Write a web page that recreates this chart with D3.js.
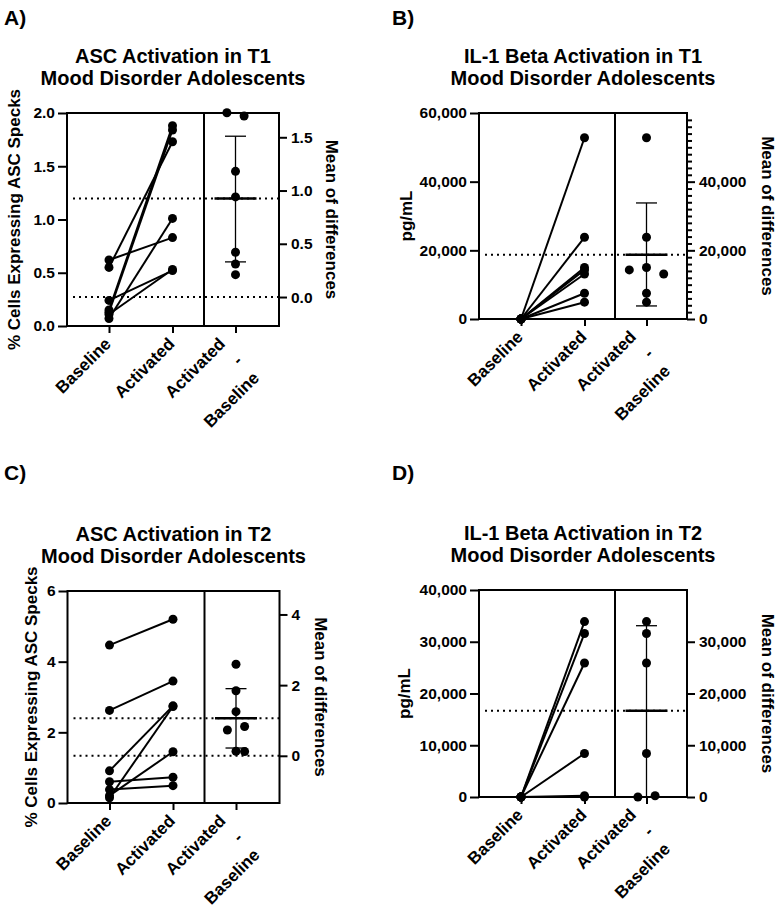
<!DOCTYPE html>
<html>
<head>
<meta charset="utf-8">
<script src="https://d3js.org/d3.v7.min.js"></script>
<style>
  body { margin: 0; background: #fff; }
  svg text { font-family: "Liberation Sans", Arial, sans-serif; font-weight: bold; fill: #000; }
</style>
</head>
<body>
<div id="chart"></div>
<script>
// categories on the x axis
var groups = ["Baseline", "Activated", "Activated - Baseline"];

// A) ASC activation, T1  (% cells)
var baseA = [0.62, 0.55, 0.15, 0.13, 0.07, 0.11, 0.24];
var actA  = [0.83, 1.73, 1.88, 1.84, 1.01, 0.53, 0.52];
var diffA = [0.21, 1.18, 1.73, 1.70, 0.94, 0.42, 0.31];
var slotA = [0, 0, -1, 1, 0, 0, 0];
var statsA = [0.272, 0.925, 0.33, 1.51];   // baseline mean, mean diff, bar low, bar high
var leftTicksA = [0, 0.5, 1, 1.5, 2];
var rightTicksA = [0, 0.5, 1, 1.5];

// B) IL-1 beta, T1  (pg/mL)
var baseB = [0, 0, 0, 0, 0, 0, 0];
var actB  = [52800, 23800, 15000, 14300, 13100, 7500, 4900];
var diffB = [52800, 23800, 15000, 14300, 13100, 7500, 4900];
var slotB = [0, 0, 0, -2, 2, 0, 0];
var statsB = [0, 18750, 3800, 33800];
var leftTicksB = [0, 20000, 40000, 60000];
var rightTicksB = [0, 20000, 40000];
var minorTicksB = d3.range(2000, 58001, 2000).filter(function(v) { return v % 20000 != 0; });

// C) ASC activation, T2
var baseC = [4.47, 2.62, 0.91, 0.15, 0.21, 0.60, 0.38];
var actC  = [5.20, 3.45, 2.75, 2.73, 1.45, 0.73, 0.49];
var diffC = [0.73, 0.83, 1.84, 2.59, 1.25, 0.13, 0.12];
var slotC = [-1, 1, 0, 0, 0, 0, 1];
var statsC = [1.336, 1.065, 0.22, 1.90];
var leftTicksC = [0, 2, 4, 6];
var rightTicksC = [0, 2, 4];

// D) IL-1 beta, T2
var baseD = [0, 0, 0, 0, 0, 0];
var actD  = [33900, 31600, 25900, 8400, 250, 0];
var diffD = [33900, 31600, 25900, 8400, 250, 0];
var slotD = [0, 0, 0, 0, 1, -1];
var statsD = [0, 16675, 0, 33100];
var leftTicksD = [0, 10000, 20000, 30000, 40000];
var rightTicksD = [0, 10000, 20000, 30000];

var W = 782, H = 909;
var svg = d3.select("#chart").append("svg")
  .attr("width", W).attr("height", H)
  .style("background", "#fff");

function styleAxis(g, size) {
  g.select(".domain").remove();
  g.selectAll(".tick line").attr("stroke", "#000").attr("stroke-width", 2);
  g.selectAll(".tick text")
    .attr("font-family", "'Liberation Sans', Arial, sans-serif")
    .attr("font-size", size).attr("font-weight", "bold").attr("fill", "#000");
}

function drawPanel(p) {
  var g = svg.append("g");
  var x = d3.scaleOrdinal().domain(groups)
    .range([p.x0 + 42, p.x0 + 105.5, p.xd + 31.5]);
  var yL = d3.scaleLinear().domain(p.leftDomain).range([p.y1, p.y0]);
  var yR = d3.scaleLinear()
    .domain([p.leftDomain[0] - p.stats[0], p.leftDomain[1] - p.stats[0]])
    .range([p.y1, p.y0]);

  // letter + title
  g.append("text").attr("x", p.letterX).attr("y", p.letterY)
    .attr("font-size", 21).text(p.letter);
  var cx = (p.x0 + p.x1) / 2;
  p.title.forEach(function(t, i) {
    g.append("text").attr("x", cx).attr("y", p.y0 - 50 + i * 22)
      .attr("text-anchor", "middle").attr("font-size", 20).text(t);
  });

  // frame
  g.append("rect").attr("x", p.x0).attr("y", p.y0)
    .attr("width", p.x1 - p.x0).attr("height", p.y1 - p.y0)
    .attr("fill", "none").attr("stroke", "#000").attr("stroke-width", 2);
  g.append("line").attr("x1", p.xd).attr("x2", p.xd).attr("y1", p.y0).attr("y2", p.y1)
    .attr("stroke", "#000").attr("stroke-width", 2);

  // dotted reference lines (baseline mean, activated mean)
  [yL(p.stats[0]), yR(p.stats[1])].forEach(function(yy) {
    g.append("line").attr("x1", p.x0 + 6).attr("x2", p.x1)
      .attr("y1", yy).attr("y2", yy)
      .attr("stroke", "#000").attr("stroke-width", 2)
      .attr("stroke-dasharray", "2,4");
  });

  // axes
  var ax = g.append("g").attr("transform", "translate(" + p.x0 + ",0)")
    .call(d3.axisLeft(yL).tickValues(p.leftTicks).tickSize(9).tickPadding(3).tickFormat(p.fmt));
  styleAxis(ax, 15.5);
  var ar = g.append("g").attr("transform", "translate(" + p.x1 + ",0)")
    .call(d3.axisRight(yR).tickValues(p.rightTicks).tickSize(8).tickPadding(4).tickFormat(p.fmt));
  styleAxis(ar, 15.5);
  if (p.minor) {
    var am = g.append("g").attr("transform", "translate(" + p.x1 + ",0)")
      .call(d3.axisRight(yR).tickValues(p.minor).tickSize(5).tickFormat(""));
    styleAxis(am, 10);
  }
  var ab = g.append("g").attr("transform", "translate(0," + p.y1 + ")")
    .call(d3.axisBottom(x).tickSize(7).tickFormat(""));
  styleAxis(ab, 10);

  // x labels, rotated
  groups.forEach(function(name, i) {
    var lines = i == 2 ? ["Activated", "-", "Baseline"] : [name];
    var tx = x(name) + (i == 2 ? -9.3 : 3);
    var t = g.append("text")
      .attr("transform", "translate(" + tx + "," + (p.y1 + 19) + ") rotate(-45)")
      .attr("text-anchor", "end").attr("font-size", 17);
    lines.forEach(function(l, j) {
      t.append("tspan").attr("x", 0).attr("dy", j == 0 ? 0 : 24).text(l);
    });
  });

  // axis titles
  var my = (p.y0 + p.y1) / 2;
  g.append("text").attr("transform", "translate(" + p.ltx + "," + my + ") rotate(-90)")
    .attr("text-anchor", "middle").attr("font-size", 17).text(p.yTitle);
  g.append("text").attr("transform", "translate(" + p.rtx + "," + my + ") rotate(90)")
    .attr("text-anchor", "middle").attr("font-size", 17).text("Mean of differences");

  // paired lines
  g.selectAll(".pair").data(p.base).enter().append("line")
    .attr("x1", x(groups[0])).attr("y1", function(d) { return yL(d); })
    .attr("x2", x(groups[1])).attr("y2", function(d, i) { return yL(p.act[i]); })
    .attr("stroke", "#000").attr("stroke-width", 2);

  // error bar and mean of differences
  var dx = x(groups[2]);
  g.append("line").attr("x1", dx).attr("x2", dx)
    .attr("y1", yR(p.stats[2])).attr("y2", yR(p.stats[3]))
    .attr("stroke", "#000").attr("stroke-width", 1.3);
  [p.stats[2], p.stats[3]].forEach(function(v) {
    g.append("line").attr("x1", dx - 10.5).attr("x2", dx + 10.5)
      .attr("y1", yR(v)).attr("y2", yR(v))
      .attr("stroke", "#000").attr("stroke-width", 1.3);
  });
  g.append("line").attr("x1", dx - 21).attr("x2", dx + 21)
    .attr("y1", yR(p.stats[1])).attr("y2", yR(p.stats[1]))
    .attr("stroke", "#000").attr("stroke-width", 2.5);

  // dots
  var r = 4.5;
  g.selectAll(".b").data(p.base).enter().append("circle")
    .attr("cx", x(groups[0])).attr("cy", function(d) { return yL(d); }).attr("r", r);
  g.selectAll(".a").data(p.act).enter().append("circle")
    .attr("cx", x(groups[1])).attr("cy", function(d) { return yL(d); }).attr("r", r);
  g.selectAll(".d").data(p.diff).enter().append("circle")
    .attr("cx", function(d, i) { return dx + p.slot[i] * 8.6; })
    .attr("cy", function(d) { return yR(d); }).attr("r", r);
}

var fmt1 = d3.format(".1f"), fmtC = d3.format(","), fmtI = d3.format("d");

drawPanel({letter: "A)", letterX: 4, letterY: 25,
  title: ["ASC Activation in T1", "Mood Disorder Adolescents"],
  x0: 67, xd: 204, x1: 279, y0: 113, y1: 326,
  leftDomain: [0, 2], leftTicks: leftTicksA, rightTicks: rightTicksA, fmt: fmt1,
  base: baseA, act: actA, diff: diffA, slot: slotA, stats: statsA,
  yTitle: "% Cells Expressing ASC Specks", ltx: 20, rtx: 325.5});

drawPanel({letter: "B)", letterX: 392, letterY: 25,
  title: ["IL-1 Beta Activation in T1", "Mood Disorder Adolescents"],
  x0: 479, xd: 615, x1: 687, y0: 113, y1: 319,
  leftDomain: [0, 60000], leftTicks: leftTicksB, rightTicks: rightTicksB, fmt: fmtC,
  minor: minorTicksB,
  base: baseB, act: actB, diff: diffB, slot: slotB, stats: statsB,
  yTitle: "pg/mL", ltx: 411.5, rtx: 762});

drawPanel({letter: "C)", letterX: 4, letterY: 480,
  title: ["ASC Activation in T2", "Mood Disorder Adolescents"],
  x0: 67.5, xd: 204.5, x1: 279.5, y0: 591, y1: 803,
  leftDomain: [0, 6], leftTicks: leftTicksC, rightTicks: rightTicksC, fmt: fmtI,
  base: baseC, act: actC, diff: diffC, slot: slotC, stats: statsC,
  yTitle: "% Cells Expressing ASC Specks", ltx: 37, rtx: 315});

drawPanel({letter: "D)", letterX: 392, letterY: 480,
  title: ["IL-1 Beta Activation in T2", "Mood Disorder Adolescents"],
  x0: 479, xd: 615, x1: 687, y0: 590, y1: 797,
  leftDomain: [0, 40000], leftTicks: leftTicksD, rightTicks: rightTicksD, fmt: fmtC,
  base: baseD, act: actD, diff: diffD, slot: slotD, stats: statsD,
  yTitle: "pg/mL", ltx: 410, rtx: 762});
</script>
</body>
</html>
